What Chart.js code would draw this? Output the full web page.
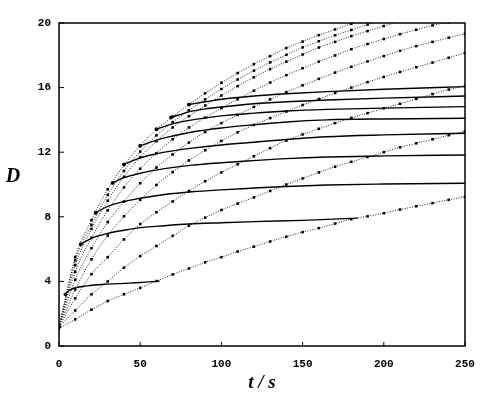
<!DOCTYPE html>
<html><head><meta charset="utf-8">
<script src="https://cdn.jsdelivr.net/npm/chart.js@4/dist/chart.umd.min.js"></script>
<style>html,body{margin:0;padding:0;background:#fff;}#wrap{width:487px;height:399px;}</style>
</head><body><div id="wrap"><canvas id="c" width="487" height="399"></canvas></div>
<script>
// time grid for the dotted (marked) curves, seconds
const times = [0,10,20,30,40,50,60,70,80,90,100,110,120,130,140,150,160,170,180,190,200,210,220,230,240,250];
// dotted curves with markers, D values (bottom to top)
const dotted1 = [1.1,1.65,2.25,2.78,3.2,3.6,4.02,4.43,4.8,5.18,5.5,5.85,6.15,6.47,6.77,7.05,7.3,7.58,7.85,8.03,8.22,8.45,8.65,8.85,9.05,9.25];
const dotted2 = [1.2,2.2,3.2,4.0,4.85,5.57,6.19,6.82,7.45,7.95,8.42,8.82,9.2,9.6,10.0,10.38,10.75,11.1,11.4,11.7,12.0,12.3,12.55,12.8,13.05,13.3];
const dotted3 = [1.2,2.95,4.45,5.5,6.6,7.55,8.28,8.95,9.6,10.2,10.75,11.25,11.75,12.25,12.72,13.1,13.45,13.8,14.12,14.42,14.72,15.0,15.3,15.6,15.88,16.1];
const dotted4 = [1.2,3.5,5.37,6.84,8.03,9.05,9.97,10.77,11.49,12.12,12.7,13.23,13.69,14.11,14.52,14.92,15.29,15.66,16.0,16.34,16.66,16.97,17.26,17.55,17.85,18.15];
const dotted5 = [1.2,4.1,6.06,7.67,8.94,10.08,11.05,11.86,12.6,13.25,13.8,14.31,14.8,15.27,15.72,16.14,16.54,16.93,17.29,17.62,17.95,18.28,18.57,18.83,19.09,19.34];
const dotted6 = [1.2,4.6,6.7,8.4,9.82,10.98,11.94,12.8,13.53,14.14,14.73,15.28,15.81,16.31,16.77,17.2,17.61,17.99,18.38,18.7,19.01,19.31,19.58,19.85,20.05];
const dotted7 = [1.2,5.0,7.25,9.0,10.48,11.68,12.68,13.53,14.23,14.89,15.51,16.09,16.64,17.14,17.61,18.05,18.48,18.83,19.19,19.5,19.81,20.1];
const dotted8 = [1.2,5.3,7.5,9.35,10.84,12.04,13.04,13.86,14.59,15.27,15.91,16.5,17.05,17.56,18.03,18.49,18.87,19.24,19.57,19.9,20.2];
const dotted9 = [1.2,5.5,7.8,9.7,11.2,12.4,13.4,14.2,14.95,15.65,16.3,16.9,17.45,17.95,18.45,18.85,19.25,19.6,19.95,20.25];
// solid plateau curves: [t, D]
const solid1 = [[4,3.2],[6,3.42],[10,3.6],[17,3.72],[28,3.82],[40,3.88],[50,3.93],[62,4.02]];
const solid2 = [[13.4,6.3],[20,6.67],[30,6.97],[40,7.17],[50,7.33],[65,7.45],[80,7.55],[100,7.63],[120,7.7],[150,7.78],[184,7.92]];
const solid3 = [[22.6,8.25],[30,8.65],[40,8.95],[50,9.15],[65,9.38],[82,9.55],[100,9.67],[120,9.78],[140,9.88],[165,9.97],[200,10.03],[250,10.08]];
const solid4 = [[33,10.1],[40,10.42],[50,10.7],[65,10.98],[82,11.2],[100,11.35],[120,11.48],[140,11.6],[165,11.7],[200,11.77],[250,11.83]];
const solid5 = [[40,11.25],[50,11.65],[60,11.9],[70,12.08],[82,12.25],[100,12.45],[120,12.62],[142,12.8],[165,12.96],[200,13.07],[250,13.17]];
const solid6 = [[50,12.4],[60,12.75],[70,13.0],[82,13.25],[100,13.5],[120,13.7],[140,13.87],[165,14.0],[200,14.06],[250,14.1]];
const solid7 = [[60,13.42],[70,13.75],[82,14.0],[100,14.25],[120,14.42],[140,14.55],[165,14.65],[200,14.73],[250,14.82]];
const solid8 = [[69,14.15],[80,14.5],[90,14.68],[100,14.8],[120,15.0],[140,15.12],[165,15.23],[200,15.35],[250,15.48]];
const solid9 = [[80,14.95],[90,15.12],[100,15.28],[120,15.48],[140,15.62],[165,15.75],[200,15.9],[250,16.06]];
const xTickValues = [0,50,100,150,200,250];
const yTickValues = [0,4,8,12,16,20];
const xTitle = 't / s';
const yTitle = 'D';

const dottedSeries = [dotted1,dotted2,dotted3,dotted4,dotted5,dotted6,dotted7,dotted8,dotted9];
const solidSeries = [solid1,solid2,solid3,solid4,solid5,solid6,solid7,solid8,solid9];

const datasets = [];
dottedSeries.forEach(vals => {
  datasets.push({
    data: vals.map((v,i) => ({x: times[i], y: v})),
    borderColor: '#222', borderWidth: 1, borderDash: [1,1.5],
    pointStyle: 'rect', pointRadius: 1.8, pointBackgroundColor: '#000', pointBorderWidth: 0,
    cubicInterpolationMode: 'monotone', fill: false
  });
});
solidSeries.forEach(s => {
  datasets.push({
    data: s.map(p => ({x: p[0], y: p[1]})),
    borderColor: '#000', borderWidth: 1.4,
    pointRadius: ctx => ctx.dataIndex === 0 ? 1.9 : 0,
    pointBackgroundColor: '#000', pointBorderWidth: 0,
    cubicInterpolationMode: 'monotone', fill: false
  });
});

const tickFont = {family: "'Liberation Mono', monospace", size: 11, weight: 'bold'};

const framePlugin = {
  id: 'frame',
  afterDraw(chart) {
    const {ctx, chartArea: a, scales} = chart;
    ctx.save();
    ctx.strokeStyle = '#000';
    ctx.lineWidth = 1.5;
    ctx.strokeRect(a.left, a.top, a.right - a.left, a.bottom - a.top);
    ctx.lineWidth = 1;
    ctx.beginPath();
    xTickValues.forEach(v => {
      const px = scales.x.getPixelForValue(v);
      ctx.moveTo(px, a.bottom); ctx.lineTo(px, a.bottom - 4);
    });
    yTickValues.forEach(v => {
      const py = scales.y.getPixelForValue(v);
      ctx.moveTo(a.left, py); ctx.lineTo(a.left + 5, py);
    });
    ctx.stroke();
    ctx.fillStyle = '#000';
    ctx.textAlign = 'center';
    ctx.textBaseline = 'middle';
    ctx.font = "italic bold 20px 'Liberation Serif', serif";
    ctx.fillText(yTitle, a.left - 46, (a.top + a.bottom) / 2 - 8);
    ctx.font = "italic bold 19px 'Liberation Serif', serif";
    ctx.fillText(xTitle, (a.left + a.right) / 2, a.bottom + 37);
    ctx.restore();
  }
};

new Chart(document.getElementById('c'), {
  type: 'line',
  data: {datasets},
  options: {
    responsive: false, animation: false, devicePixelRatio: 1,
    layout: {padding: {top: 23, right: 22, left: 0, bottom: 0}},
    plugins: {legend: {display: false}, tooltip: {enabled: false}},
    scales: {
      x: {
        type: 'linear', min: 0, max: 250,
        afterBuildTicks: s => { s.ticks = xTickValues.map(v => ({value: v})); },
        afterFit: s => { s.height = 53; },
        grid: {display: false, drawTicks: false}, border: {display: false},
        ticks: {font: tickFont, color: '#000', padding: 12, maxRotation: 0, autoSkip: false}
      },
      y: {
        type: 'linear', min: 0, max: 20,
        afterBuildTicks: s => { s.ticks = yTickValues.map(v => ({value: v})); },
        afterFit: s => { s.width = 59; },
        grid: {display: false, drawTicks: false}, border: {display: false},
        ticks: {font: tickFont, color: '#000', padding: 8, autoSkip: false}
      }
    }
  },
  plugins: [framePlugin]
});
</script>
</body></html>
